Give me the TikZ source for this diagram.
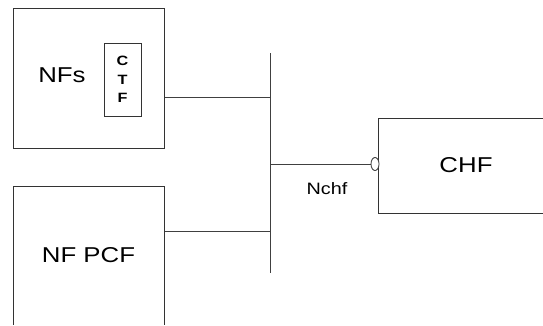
\documentclass[tikz,border=0pt]{standalone}
\usepackage{fontspec}
\setmainfont[FakeStretch=1.2]{Liberation Sans}
\usetikzlibrary{shapes.geometric}
\tikzset{
  box/.style={draw=black!80, line width=1pt, inner sep=0pt},
  link/.style={draw=black!75, line width=1pt},
  bigtext/.style={font=\fontsize{21.5}{25}\selectfont, inner sep=0pt},
}
\begin{document}
\begin{tikzpicture}[x=1pt,y=1pt]
\useasboundingbox (0,0) rectangle (543,325);
\clip (0,0.6) rectangle (543,325);
% network functions
\node[box, minimum width=151, minimum height=140] (nfs) at (88.5,247) {};
\node[bigtext] (nfstext) at (62,250) {NFs};
\node[box, minimum width=37, minimum height=73, align=center,
  font=\fontsize{13.5}{18.5}\selectfont\bfseries] (ctf) at (122.5,245.5) {C\\T\\F};
\node[box, bigtext, minimum width=151, minimum height=139] (pcf) at (88.5,69.5) {NF PCF};
\node[box, bigtext, minimum width=176, minimum height=95] (chf) at (466,159.5) {CHF};
% bus
\coordinate (bustop) at (270,272);
\coordinate (busbot) at (270,52);
\coordinate (busnfs) at (270,228);
\coordinate (buspcf) at (270,94);
\coordinate (buschf) at (270,161);
\draw[link] (bustop) -- (busbot);
\draw[link] (nfs.east |- busnfs) -- (busnfs);
\draw[link] (pcf.east |- buspcf) -- (buspcf);
\draw[link] (buschf) -- (chf.west |- buschf);
\node[draw=black!80, fill=white, line width=0.8pt, ellipse, minimum width=8, minimum height=13,
  inner sep=0pt] (port) at (375,161) {};
\node[font=\fontsize{16.5}{20}\selectfont, inner sep=0pt] (nchf) at (327,136) {Nchf};
\end{tikzpicture}
\end{document}
